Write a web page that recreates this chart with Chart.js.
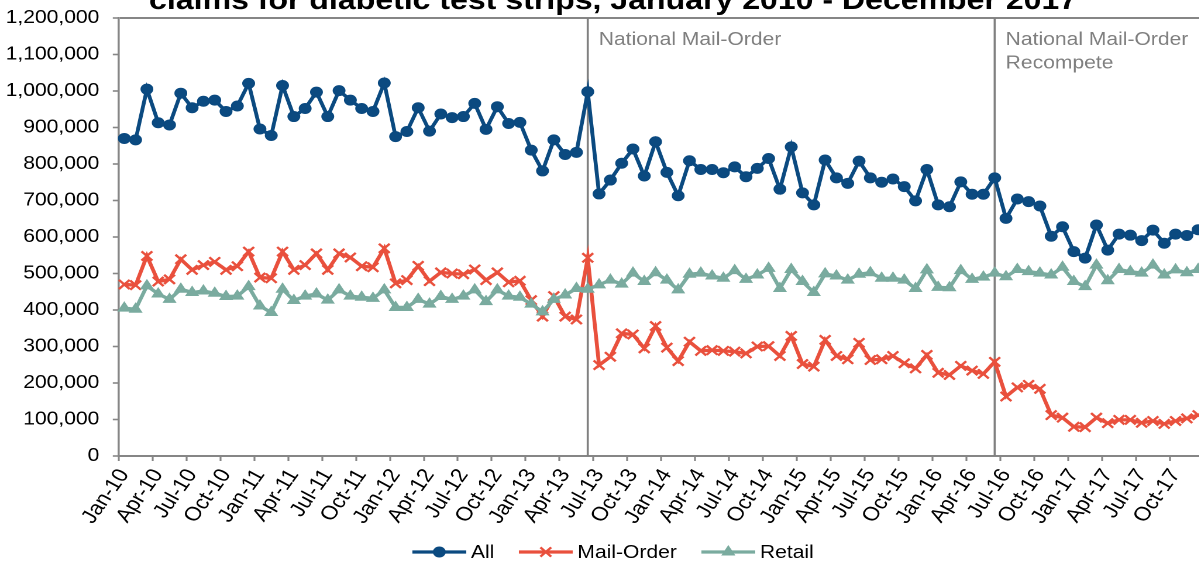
<!DOCTYPE html>
<html>
<head>
<meta charset="utf-8">
<script src="https://cdn.jsdelivr.net/npm/chart.js@4.4.1/dist/chart.umd.min.js"></script>
<style>
  html, body { margin: 0; padding: 0; overflow: hidden; background: #ffffff; width: 1199px; height: 562px; }
  /* the chart is laid out narrower and widened horizontally */
  #wrap { position: absolute; left: 0; top: -30px; width: 1048px; height: 592px;
          transform: scaleX(1.17); transform-origin: 0 0; }
</style>
</head>
<body>
<div id="wrap"><canvas id="chart" width="1048" height="592"></canvas></div>
<script>
const titleText = 'claims for diabetic test strips, January 2010 - December 2017';

const months = ['Jan', 'Feb', 'Mar', 'Apr', 'May', 'Jun', 'Jul', 'Aug', 'Sep', 'Oct', 'Nov', 'Dec'];
const years = ['10', '11', '12', '13', '14', '15', '16', '17'];
const categories = years.flatMap(y => months.map(m => m + '-' + y));

const yTicks = { min: 0, max: 1200000, step: 100000 };

const allClaims = [
  870000, 866000, 1005000, 913000, 907000, 994000, 954000, 972000, 975000, 944000, 959000, 1021000,
  896000, 878000, 1015000, 930000, 952000, 997000, 930000, 1001000, 975000, 952000, 944000, 1022000,
  875000, 889000, 954000, 890000, 937000, 927000, 930000, 966000, 895000, 957000, 911000, 914000,
  838000, 781000, 866000, 826000, 832000, 998000, 718000, 756000, 802000, 841000, 767000, 861000,
  777000, 713000, 809000, 785000, 785000, 776000, 792000, 765000, 788000, 815000, 731000, 847000,
  721000, 688000, 811000, 762000, 747000, 808000, 762000, 750000, 759000, 738000, 699000, 785000,
  688000, 683000, 751000, 717000, 717000, 762000, 651000, 704000, 697000, 685000, 602000, 628000,
  560000, 542000, 633000, 564000, 608000, 605000, 590000, 619000, 583000, 608000, 604000, 620000
];

const mailOrderClaims = [
  470000, 468000, 548000, 478000, 484000, 539000, 510000, 523000, 532000, 510000, 520000, 560000,
  489000, 487000, 560000, 510000, 523000, 555000, 510000, 555000, 544000, 520000, 517000, 569000,
  473000, 482000, 521000, 479000, 503000, 500000, 498000, 511000, 482000, 503000, 476000, 480000,
  427000, 382000, 438000, 382000, 374000, 543000, 249000, 272000, 336000, 333000, 295000, 356000,
  297000, 260000, 313000, 288000, 290000, 288000, 286000, 281000, 300000, 301000, 274000, 329000,
  252000, 245000, 318000, 274000, 265000, 310000, 263000, 265000, 274000, 254000, 240000, 277000,
  228000, 222000, 247000, 234000, 225000, 258000, 163000, 188000, 195000, 184000, 112000, 105000,
  80000, 79000, 105000, 90000, 99000, 99000, 91000, 96000, 88000, 96000, 103000, 112000
];

const retailClaims = [
  405000, 402000, 466000, 444000, 429000, 457000, 448000, 452000, 446000, 437000, 438000, 464000,
  411000, 393000, 457000, 426000, 438000, 444000, 427000, 455000, 438000, 435000, 432000, 455000,
  407000, 407000, 429000, 416000, 437000, 429000, 438000, 455000, 423000, 455000, 438000, 435000,
  416000, 395000, 429000, 441000, 459000, 457000, 469000, 482000, 471000, 501000, 478000, 502000,
  482000, 455000, 498000, 501000, 493000, 487000, 508000, 484000, 496000, 514000, 459000, 511000,
  478000, 448000, 499000, 493000, 482000, 498000, 502000, 487000, 487000, 482000, 459000, 510000,
  462000, 461000, 508000, 484000, 490000, 501000, 491000, 511000, 505000, 501000, 496000, 517000,
  478000, 464000, 523000, 480000, 511000, 505000, 501000, 523000, 496000, 510000, 502000, 511000
];

// months after which the competitive bidding rounds took effect
const eventMonths = ['Jun-13', 'Jun-16'];
const eventLabels = [['National Mail-Order'], ['National Mail-Order', 'Recompete']];

const FONT = '"Liberation Sans", Arial, Helvetica, sans-serif';
const AXIS_GRAY = '#868686';
const NOTE_GRAY = '#7f7f7f';

Chart.defaults.font.family = FONT;
Chart.defaults.font.size = 18;
Chart.defaults.color = '#000000';

const decorations = {
  id: 'decorations',
  beforeDatasetsDraw(chart) {
    const { ctx, chartArea, scales: { x } } = chart;
    ctx.save();
    ctx.strokeStyle = '#808080';
    ctx.lineWidth = 1.8;
    eventMonths.forEach(m => {
      const px = x.getPixelForValue(categories.indexOf(m));
      ctx.beginPath();
      ctx.moveTo(px, chartArea.top);
      ctx.lineTo(px, chartArea.bottom);
      ctx.stroke();
    });
    ctx.restore();
  },
  afterDraw(chart) {
    const { ctx, chartArea, scales: { x }, width } = chart;
    ctx.save();

    // notes beside the vertical markers
    ctx.font = '18px ' + FONT;
    ctx.fillStyle = NOTE_GRAY;
    ctx.textAlign = 'left';
    ctx.textBaseline = 'alphabetic';
    eventMonths.forEach((m, i) => {
      const px = x.getPixelForValue(categories.indexOf(m)) + 9.4;
      eventLabels[i].forEach((line, j) => {
        ctx.fillText(line, px, chartArea.top + 27 + j * 23.5);
      });
    });

    // title
    ctx.font = 'bold 27.4px ' + FONT;
    ctx.fillStyle = '#000000';
    ctx.textAlign = 'center';
    ctx.fillText(titleText, width / 2, chartArea.top - 9);

    // legend: line with marker, then the series name
    ctx.font = '18px ' + FONT;
    ctx.textAlign = 'left';
    const lineLen = 46, gapText = 4, gapItem = 21;
    const items = chart.data.datasets.map(ds => ({ ds, w: ctx.measureText(ds.label).width }));
    const total = items.reduce((s, it) => s + lineLen + gapText + it.w, 0) + gapItem * (items.length - 1);
    let cx = width / 2 - total / 2;
    const cy = chartArea.bottom + 96;
    items.forEach(({ ds, w }) => {
      ctx.strokeStyle = ds.borderColor;
      ctx.lineWidth = ds.borderWidth;
      ctx.beginPath();
      ctx.moveTo(cx, cy);
      ctx.lineTo(cx + lineLen, cy);
      ctx.stroke();
      ctx.fillStyle = ds.pointBackgroundColor;
      ctx.strokeStyle = ds.pointBorderColor;
      ctx.lineWidth = ds.pointBorderWidth;
      Chart.helpers.drawPoint(ctx, {
        pointStyle: ds.pointStyle, radius: ds.pointRadius,
        borderWidth: ds.pointBorderWidth, rotation: 0
      }, cx + lineLen / 2, cy);
      ctx.fillStyle = '#000000';
      ctx.fillText(ds.label, cx + lineLen + gapText, cy + 6);
      cx += lineLen + gapText + w + gapItem;
    });

    ctx.restore();
  }
};

function series(label, data, color, style, radius, pointBorder, order) {
  return {
    label, data, order,
    borderColor: color, backgroundColor: color,
    pointBackgroundColor: color, pointBorderColor: color,
    borderWidth: 3.3, pointStyle: style, pointRadius: radius,
    pointBorderWidth: pointBorder, pointHoverRadius: radius,
    tension: 0
  };
}

new Chart(document.getElementById('chart'), {
  type: 'line',
  data: {
    labels: categories,
    datasets: [
      series('All', allClaims, '#0b4a80', 'circle', 5, 1, 2),
      series('Mail-Order', mailOrderClaims, '#e9503d', 'crossRot', 6.5, 2.2, 1),
      series('Retail', retailClaims, '#7aab9f', 'triangle', 6, 1, 0)
    ]
  },
  options: {
    responsive: false,
    devicePixelRatio: 2,
    animation: false,
    layout: { padding: { top: 48, bottom: 26, left: 0, right: 17 }, autoPadding: false },
    plugins: { legend: { display: false }, title: { display: false }, tooltip: { enabled: false } },
    scales: {
      x: {
        type: 'category',
        offset: true,
        afterFit(scale) { scale.height = 80; },
        border: { display: true, color: AXIS_GRAY, width: 2 },
        grid: {
          offset: true,
          drawOnChartArea: false,
          drawTicks: true,
          tickLength: 5,
          tickWidth: 1.6,
          tickColor: ctx => (ctx.index % 3 === 0 ? AXIS_GRAY : 'rgba(0,0,0,0)')
        },
        ticks: {
          autoSkip: false,
          minRotation: 58,
          maxRotation: 58,
          padding: 4,
          color: '#000000',
          font: { size: 19.5 },
          callback(value, index) { return index % 3 === 0 ? categories[index] : ''; }
        }
      },
      y: {
        min: yTicks.min,
        max: yTicks.max,
        afterFit(scale) { scale.width = 101.4; },
        border: { display: true, color: AXIS_GRAY, width: 1.8 },
        grid: {
          drawOnChartArea: true,
          lineWidth: 2,
          color: ctx => (ctx.tick && ctx.tick.value === yTicks.max ? AXIS_GRAY : 'rgba(0,0,0,0)'),
          tickColor: AXIS_GRAY,
          tickLength: 5,
          tickWidth: 1.6
        },
        ticks: {
          stepSize: yTicks.step,
          padding: 11.5,
          color: '#000000',
          font: { size: 18 },
          callback: v => v.toLocaleString('en-US')
        }
      }
    }
  },
  plugins: [decorations]
});
</script>
</body>
</html>
